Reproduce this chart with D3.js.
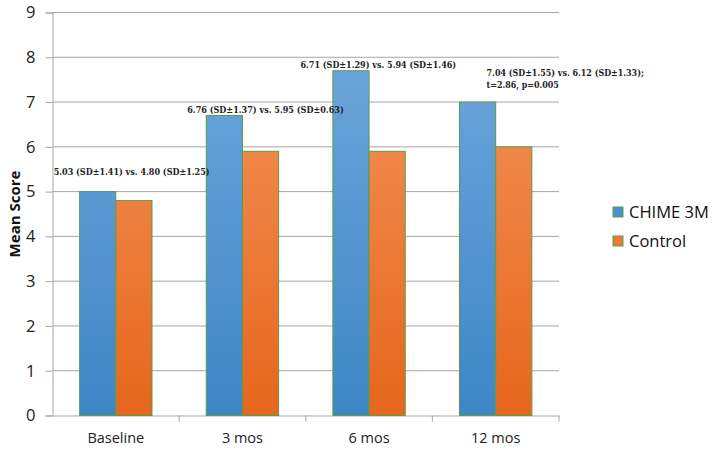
<!DOCTYPE html>
<html>
<head>
<meta charset="utf-8">
<script src="https://cdn.jsdelivr.net/npm/d3@7"></script>
<style>
  html, body { margin: 0; padding: 0; background: #fff; }
  svg { display: block; }
</style>
</head>
<body>
<div id="chart"></div>
<script>
const categories = ["Baseline", "3 mos", "6 mos", "12 mos"];
const seriesNames = ["CHIME 3M", "Control"];
const chimeValues = [5.0, 6.7, 7.7, 7.0];
const controlValues = [4.8, 5.9, 5.9, 6.0];
const yTicks = [0, 1, 2, 3, 4, 5, 6, 7, 8, 9];
const annotations = [
  ["5.03 (SD\u00B11.41) vs. 4.80 (SD\u00B11.25)"],
  ["6.76 (SD\u00B11.37) vs. 5.95 (SD\u00B10.63)"],
  ["6.71 (SD\u00B11.29) vs. 5.94 (SD\u00B11.46)"],
  ["7.04 (SD\u00B11.55) vs. 6.12 (SD\u00B11.33);", "t=2.86, p=0.005"]
];
// annotation anchor: value (y) of first text baseline, x offset as fraction of category band
const annotationY = [5.37, 6.76, 7.75, 7.59];
const annotationDX = [0.005, 0.06, -0.046, 0.424];
const annotationWidths = [[156], [156.5], [155.7], [157.3, 72.3]];

const W = 714, H = 452;
const margin = { left: 52.5, right: 155, top: 12.5, bottom: 36.5 };
const svg = d3.select("#chart").append("svg").attr("width", W).attr("height", H);

const x = d3.scaleBand().domain(categories).range([margin.left, W - margin.right]);
const y = d3.scaleLinear().domain([0, 9]).range([H - margin.bottom, margin.top]);

// gridlines
svg.append("g").selectAll("line").data(yTicks.filter(d => d > 0)).join("line")
  .attr("x1", margin.left).attr("x2", W - margin.right)
  .attr("y1", d => y(d)).attr("y2", d => y(d))
  .attr("stroke", "#a6a6a6").attr("stroke-width", 1);

// y axis
const yAxis = svg.append("g").attr("transform", `translate(${margin.left},0)`)
  .call(d3.axisLeft(y).tickValues(yTicks).tickSize(7).tickPadding(10));
yAxis.select(".domain").attr("stroke", "#a6a6a6");
yAxis.selectAll(".tick line").attr("stroke", "#a6a6a6");
yAxis.selectAll("text").attr("font-family", "Open Sans, sans-serif").attr("font-size", 16.5).attr("fill", "#222");

// x axis
const xAxis = svg.append("g").attr("transform", `translate(0,${y(0)})`)
  .call(d3.axisBottom(x).tickSize(0).tickPadding(17));
xAxis.select(".domain").attr("stroke", "#a6a6a6");
xAxis.selectAll("text").attr("font-family", "Open Sans, sans-serif").attr("font-size", 14.5).attr("fill", "#222");
// category separators
svg.append("g").selectAll("line").data(categories).join("line")
  .attr("x1", d => x(d) + x.bandwidth()).attr("x2", d => x(d) + x.bandwidth())
  .attr("y1", y(0)).attr("y2", y(0) + 6)
  .attr("stroke", "#a6a6a6");

// gradients
const defs = svg.append("defs");
const gradSpecs = [
  { id: "gBlue", top: "#72a9de", bottom: "#3d86c6" },
  { id: "gOrange", top: "#f49860", bottom: "#e6661c" }
];
gradSpecs.forEach(g => {
  const lg = defs.append("linearGradient").attr("id", g.id)
    .attr("gradientUnits", "userSpaceOnUse")
    .attr("x1", 0).attr("x2", 0).attr("y1", y(9)).attr("y2", y(0));
  lg.append("stop").attr("offset", "0%").attr("stop-color", g.top);
  lg.append("stop").attr("offset", "100%").attr("stop-color", g.bottom);
});

const inner = d3.scaleBand().domain(seriesNames).range([0, x.bandwidth()]).paddingInner(0).paddingOuter(0.75);
const seriesData = [chimeValues, controlValues];
const fills = ["url(#gBlue)", "url(#gOrange)"];

seriesNames.forEach((s, si) => {
  svg.append("g").selectAll("rect").data(categories).join("rect")
    .attr("x", (c) => x(c) + inner(s))
    .attr("width", inner.bandwidth())
    .attr("y", (c, i) => y(seriesData[si][i]))
    .attr("height", (c, i) => y(0) - y(seriesData[si][i]))
    .attr("fill", fills[si])
    .attr("stroke", "#5d9b4c")
    .attr("stroke-width", 1);
});

// annotations
const ann = svg.append("g")
  .attr("font-family", "DejaVu Serif, serif")
  .attr("font-weight", "bold")
  .attr("font-size", 9.5)
  .attr("fill", "#222");
annotations.forEach((lines, i) => {
  const ax = x(categories[i]) + annotationDX[i] * x.bandwidth() + 0.5;
  lines.forEach((l, j) => {
    ann.append("text")
      .attr("x", ax)
      .attr("y", y(annotationY[i]) + j * 12.5)
      .attr("textLength", annotationWidths[i][j])
      .attr("lengthAdjust", "spacingAndGlyphs")
      .text(l);
  });
});

// y label
svg.append("text")
  .attr("transform", `translate(19.5,${(y(0) + y(9)) / 2}) rotate(-90)`)
  .attr("text-anchor", "middle")
  .attr("font-family", "Open Sans, sans-serif")
  .attr("font-weight", "bold")
  .attr("font-size", 15)
  .attr("fill", "#111")
  .text("Mean Score");

// legend
const legendColors = ["#4a90d0", "#ed7a34"];
const leg = svg.append("g");
seriesNames.forEach((s, i) => {
  const gy = 212 + i * 29;
  leg.append("rect").attr("x", 613).attr("y", gy - 5).attr("width", 10).attr("height", 10)
    .attr("fill", legendColors[i]).attr("stroke", "#5d9b4c").attr("stroke-width", 1);
  leg.append("text").attr("x", 629).attr("y", gy).attr("dy", "0.35em")
    .attr("font-family", "Open Sans, sans-serif").attr("font-size", 16.5).attr("fill", "#111").text(s);
});
</script>
</body>
</html>
